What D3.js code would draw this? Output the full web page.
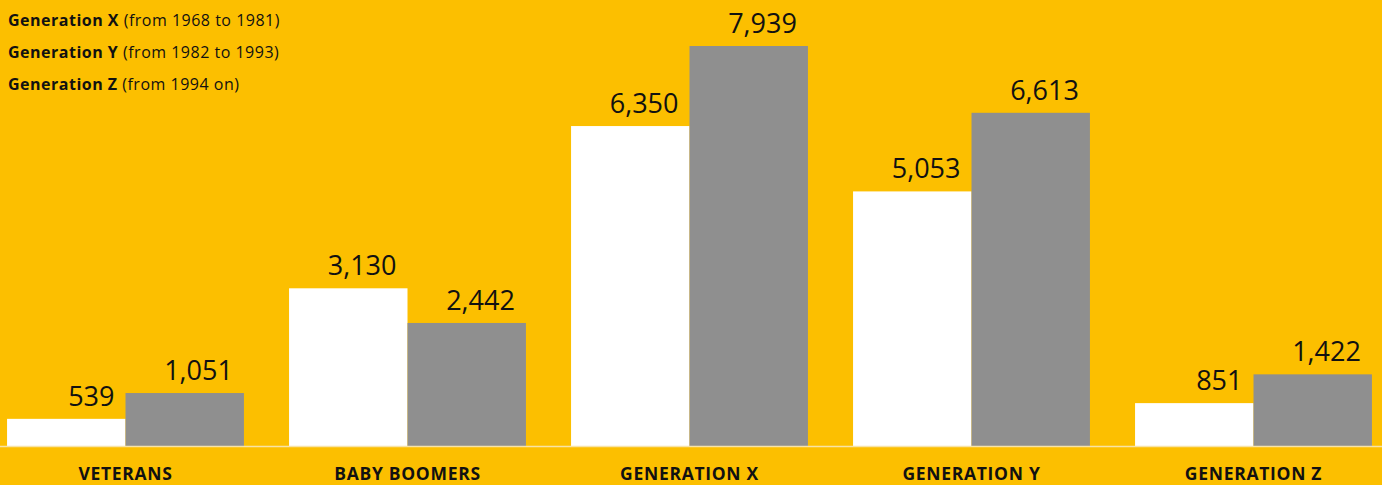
<!DOCTYPE html>
<html><head><meta charset="utf-8">
<script src="https://cdn.jsdelivr.net/npm/d3@7"></script>
<style>
html,body{margin:0;padding:0;background:#fcbf00;}
svg{display:block;font-family:"Open Sans",sans-serif;}
</style></head>
<body><svg id="c" width="1382" height="485"></svg>
<script>
const categories = ["VETERANS","BABY BOOMERS","GENERATION X","GENERATION Y","GENERATION Z"];
const seriesNames = ["Series A","Series B"];
const seriesA = [539, 3130, 6350, 5053, 851];
const seriesB = [1051, 2442, 7939, 6613, 1422];
const legendBold = ["Generation X","Generation Y","Generation Z"];
const legendRest = ["(from 1968 to 1981)","(from 1982 to 1993)","(from 1994 on)"];
const colors = ["#ffffff","#8f8f8f"];

const W = 1382, H = 485;
const svg = d3.select("#c");
svg.append("rect").attr("width",W).attr("height",H).attr("fill","#fcbf00");

const x0 = d3.scaleBand().domain(categories).range([-15.5, 1394.5]).paddingInner(0.16).paddingOuter(0.08);
const x1 = d3.scaleBand().domain(seriesNames).range([0, x0.bandwidth()]);
const y = d3.scaleLinear().domain([0, 7939]).range([446, 46]);
const fmt = d3.format(",");

const data = categories.map((c,i)=>({cat:c, vals:[seriesA[i], seriesB[i]]}));

const g = svg.append("g").selectAll("g").data(data).join("g")
  .attr("transform", d=>`translate(${x0(d.cat)},0)`);

g.selectAll("rect").data(d=>d.vals.map((v,j)=>({s:seriesNames[j], v, j})))
  .join("rect")
  .attr("x", d=>x1(d.s))
  .attr("y", d=>y(d.v))
  .attr("width", x1.bandwidth())
  .attr("height", d=>y(0)-y(d.v))
  .attr("fill", d=>colors[d.j]);

g.selectAll("text.val").data(d=>d.vals.map((v,j)=>({s:seriesNames[j], v, j})))
  .join("text").attr("class","val")
  .attr("x", d=>x1(d.s)+x1.bandwidth()-11)
  .attr("y", d=>y(d.v)-13)
  .attr("text-anchor","end")
  .attr("font-size",27)
  .attr("fill","#111")
  .text(d=>fmt(d.v));

// baseline
svg.append("line").attr("x1",0).attr("x2",W).attr("y1",y(0)+0.5).attr("y2",y(0)+0.5)
  .attr("stroke","#f8e3a6").attr("stroke-width",1.5);

// category labels
svg.append("g").selectAll("text").data(categories).join("text")
  .attr("x", d=>x0(d)+x0.bandwidth()/2)
  .attr("y", 480)
  .attr("text-anchor","middle")
  .attr("font-size",17.5)
  .attr("letter-spacing",0.7)
  .attr("font-weight","bold")
  .attr("fill","#111")
  .text(d=>d);

// legend notes
const lg = svg.append("g").selectAll("text").data(legendBold).join("text")
  .attr("x",8).attr("y",(d,i)=>26+i*32)
  .attr("font-size",16).attr("letter-spacing",0.5).attr("fill","#111");
lg.append("tspan").attr("font-weight","bold").text(d=>d);
lg.append("tspan").text((d,i)=>" "+legendRest[i]);
</script></body></html>
